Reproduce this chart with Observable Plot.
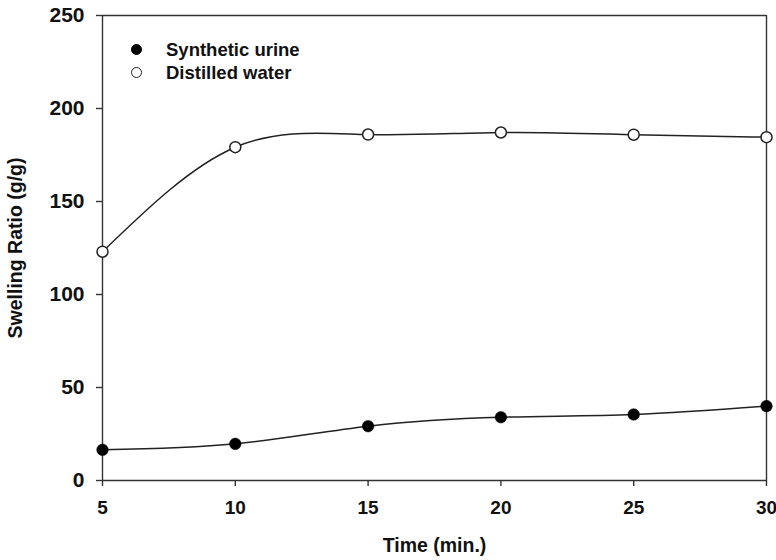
<!DOCTYPE html>
<html>
<head>
<meta charset="utf-8">
<script src="https://cdn.jsdelivr.net/npm/d3@7"></script>
<script src="https://cdn.jsdelivr.net/npm/@observablehq/plot@0.6"></script>
<style>
  html, body { margin: 0; padding: 0; background: #fff; }
  #wrap { position: relative; width: 776px; height: 560px; }
  #wrap svg text { font-family: "Liberation Sans", Arial, sans-serif !important; font-weight: bold !important; font-size: 19.5px !important; fill: #111; }
  #wrap svg g[aria-label="y-axis tick label"] text { font-size: 21px !important; }
  #wrap svg g[aria-label="x-axis tick label"] text { font-size: 19px !important; }
  #legend { position: absolute; left: 131px; top: 38px; font-family: "Liberation Sans", Arial, sans-serif; font-weight: bold; font-size: 18.5px; color: #111; }
  .row { display: flex; align-items: center; height: 23px; }
  .sw { width: 11px; height: 11px; border-radius: 50%; box-sizing: border-box; margin-right: 24px; }
</style>
</head>
<body>
<div id="wrap"></div>
<script>
const time = [5, 10, 15, 20, 25, 30];
const urine = [16.5, 19.7, 29.2, 34.0, 35.5, 40.0];
const water = [123.0, 179.2, 186.0, 187.1, 185.9, 184.6];
const seriesNames = ["Synthetic urine", "Distilled water"];
const xTicks = [5, 10, 15, 20, 25, 30];
const yTicks = [0, 50, 100, 150, 200, 250];

const urineData = time.map((t, i) => ({t, v: urine[i]}));
const waterData = time.map((t, i) => ({t, v: water[i]}));

const axisColor = "#333";
const chart = Plot.plot({
  width: 776,
  height: 560,
  marginLeft: 102,
  marginRight: 10,
  marginTop: 15,
  marginBottom: 80,
  style: {fontFamily: "'Liberation Sans', Arial, sans-serif", fontWeight: "bold", fontSize: "19px", color: "#111", background: "#fff", overflow: "visible"},
  x: {domain: [5, 30]},
  y: {domain: [0, 250]},
  marks: [
    Plot.ruleY([250], {stroke: axisColor, strokeWidth: 1.4}),
    Plot.ruleX([30], {stroke: axisColor, strokeWidth: 1.4}),
    Plot.ruleX([5], {stroke: axisColor, strokeWidth: 1.4}),
    Plot.ruleY([0], {stroke: axisColor, strokeWidth: 1.4}),
    Plot.axisY({ticks: yTicks, tickSize: 6, tickPadding: 12, stroke: axisColor, strokeWidth: 1.4,
      label: "Swelling Ratio (g/g)", labelAnchor: "center", labelOffset: 94, labelArrow: "none", fontSize: 19}),
    Plot.axisX({ticks: xTicks, tickSize: 6, tickPadding: 14, stroke: axisColor, strokeWidth: 1.4,
      label: "Time (min.)", labelAnchor: "center", labelOffset: 71, labelArrow: "none", fontSize: 19}),
    Plot.line(waterData, {x: "t", y: "v", curve: "natural", stroke: "#222", strokeWidth: 1.5}),
    Plot.line(urineData, {x: "t", y: "v", curve: "natural", stroke: "#222", strokeWidth: 1.5}),
    Plot.dot(waterData, {x: "t", y: "v", r: 5.5, fill: "#fff", stroke: "#222", strokeWidth: 1.5}),
    Plot.dot(urineData, {x: "t", y: "v", r: 5.8, fill: "#000", stroke: "#000", strokeWidth: 0.5})
  ]
});
const wrap = document.getElementById("wrap");
wrap.appendChild(chart);

const legend = document.createElement("div");
legend.id = "legend";
const styles = [{bg: "#000", border: "1px solid #000"}, {bg: "#fff", border: "1.5px solid #222"}];
seriesNames.forEach((name, i) => {
  const row = document.createElement("div");
  row.className = "row";
  const sw = document.createElement("span");
  sw.className = "sw";
  sw.style.background = styles[i].bg;
  sw.style.border = styles[i].border;
  const tx = document.createElement("span");
  tx.textContent = name;
  row.appendChild(sw);
  row.appendChild(tx);
  legend.appendChild(row);
});
wrap.appendChild(legend);
</script>
</body>
</html>
